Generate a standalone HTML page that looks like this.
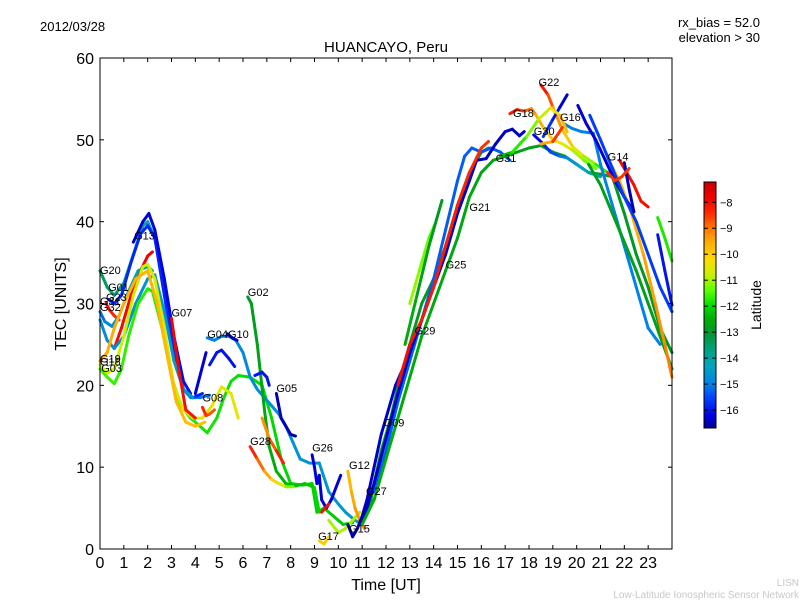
<!DOCTYPE html>
<html><head><meta charset="utf-8"><style>
html,body{margin:0;padding:0;background:#fff;width:800px;height:600px;overflow:hidden}
svg{display:block;font-family:"Liberation Sans","DejaVu Sans",sans-serif}
</style></head><body>
<svg id="chart" width="800" height="600" xmlns="http://www.w3.org/2000/svg">
<defs><linearGradient id="jet2" x1="0" y1="1" x2="0" y2="0"></linearGradient></defs>
<text x="40" y="31" font-size="13">2012/03/28</text>
<text x="760" y="27" font-size="13" text-anchor="end">rx_bias = 52.0</text>
<text x="760" y="42" font-size="13" text-anchor="end">elevation &gt; 30</text>
<text x="386" y="52" font-size="15" text-anchor="middle">HUANCAYO, Peru</text>
<g id="tracks"></g>
<g id="labels"></g>
<rect x="100" y="58" width="572" height="491" fill="none" stroke="#000" stroke-width="1"/>
<g id="axes"></g>
<text x="386" y="590" font-size="16" text-anchor="middle">Time [UT]</text>
<text x="66" y="304" font-size="16" text-anchor="middle" transform="rotate(-90 66 304)">TEC [UNITS]</text>
<rect x="704" y="182" width="12" height="246" fill="url(#jet2)" stroke="#000" stroke-width="1"/>
<g id="cbar"></g>
<text x="761" y="305" font-size="14" text-anchor="middle" transform="rotate(-90 761 305)">Latitude</text>
<text x="799" y="586" font-size="10" text-anchor="end" fill="#c8c8c8">LISN</text>
<text x="799" y="598" font-size="10" text-anchor="end" fill="#c8c8c8">Low-Latitude Ionospheric Sensor Network</text>
</svg>
<script>
const trackTimes = [
[0,0.3,0.6,1.0,1.4,1.8,2.0,2.3,2.7,3.1,3.5,3.8,4.2,4.6],
[0.35,0.6,0.9,1.3,1.7,2.0,2.3,2.7,3.1,3.5,3.9,4.3],
[1.4,1.8,2.05,2.3,2.7,3.1,3.5,3.8],
[0.25,0.4,0.6,0.8],
[0.6,0.9,1.3,1.7,2.0,2.2],
[0,0.3,0.6,1,1.5,2,2.3,2.7,3.1,3.5,3.9],
[0,0.2,0.5,0.8,1.2,1.6,2.0,2.2],
[0,0.3,0.6,0.9,1.2,1.6,2.0,2.2,2.6,3.0,3.4,3.8,4.2,4.5,4.9,5.2,5.5,5.8,6.3,6.8,7.2,7.6,8.0,8.5,8.9,9.1,9.4,9.8,10.2,10.6],
[0,0.3,0.6,1,1.4,1.8,2.0,2.3,2.7,3.1,3.5,3.9,4.3,4.7,5.1,5.5,5.8],
[0,0.3,0.6,1,1.5,2,2.4,2.8,3.2,3.6,4.0,4.4],
[3.0,3.3,3.6,4.0],
[4.3,4.45,4.6,4.8],
[4.5,4.8,5.1,5.4,5.7,6.0,6.3,6.6,6.9,7.2,7.5,7.8,8.1,8.4,8.8,9.2,9.6,10,10.3,10.7,11],
[5.35,5.55,5.75],
[4.0,4.45],
[4.6,4.9,5.1,5.4,5.65],
[6.2,6.35,6.6,6.9,7.1,7.4,7.8,8.2,8.6,9.0,9.2],
[7.4,7.6,7.8,8.0,8.2],
[6.5,6.8,7.0,7.1],
[6.3,6.6,6.9,7.2,7.5,7.8,8.1],
[6.8,7.1,7.4,7.7],
[8.9,9.0,9.1,9.2,9.3,9.5,9.7,9.9,10.1],
[9.2,9.4,9.6],
[9.6,10,10.3,10.6,10.9],
[10.4,10.55,10.7,10.9,11.1],
[9.3,9.6],
[10.4,10.6,10.8,11.0,11.2,11.5,11.8,12.1,12.4,12.7],
[11.1,11.3,11.5,11.8,12.2,12.6,13,13.5,14,14.5,15,15.5,16,16.3],
[11.5,12,12.5,13,13.5,14,14.5,15,15.3,15.6,16,16.4,16.8,17.2],
[11.0,11.5,12,12.5,13,13.5,14,14.5,15,15.5,15.8,16.2,16.6,17,17.3,17.6,17.8],
[12.5,13,13.5,14,14.5,15,15.5,16,16.3],
[11.0,11.5,12,12.5,13,13.5,14,14.5,15,15.5,16,16.5,17,17.5,18,18.5,19,19.5,20,20.5,21,21.5,22,22.5,23,23.5,24],
[13,13.4,13.8,14.1],
[12.8,13.3,13.8,14.35],
[17.2,17.5,17.8,18.1,18.3,18.6,19,19.4,19.8,20.3,20.8],
[18.5,18.8,19,19.4,19.85,20.3,20.8,21.3],
[18.2,18.6,18.9,19.3,19.6,20,20.5,21],
[18.6,19,19.3,19.6],
[19.45,19.8,20.2,20.7,21,21.5,22,22.5,23,23.5],
[16.8,17.3,17.9,18.4,18.9,19.3,19.6],
[18.5,19,19.4],
[20.5,21,21.5,22,22.5,23,23.5,24],
[21.3,21.8,22.3,22.8,23.3,23.7,24],
[20.05,20.4,20.8,21.2,21.6,22.0,22.4],
[20.55,21,21.5,22,22.5,23,23.5,24],
[21.8,22.1,22.4,22.7,23],
[23.4,23.7,24],
[23.4,23.7,24],
[22,22.2,22.4],
[21.3,21.6,21.9,22.2]
];
const trackTec = [
[34,32,31,32.5,36,39.5,40,38,32,25,19.5,18.5,18.5,18.8],
[30.5,30,31,35,38.5,39.5,38,31,24,19.5,18.5,19],
[37.5,40,41,39,33,26,20.5,19],
[30,29.2,28.5,28],
[24.5,27,31,34,35.8,36.3],
[28,25.5,24.5,26,30,33,33.5,29,23,19.5,18.5],
[29,27.8,27.2,28.5,31.5,34,34.5,34],
[22,21,20.2,22,26,30,31.8,31.5,27,21,17.5,16,15,14.2,16,18.5,20.5,21.2,21,20,16,11,8,7.8,8,4.5,5,4,3,3.2],
[22.5,21.5,22,26,31,34.5,34.8,33,27,20,17,16,16,17.5,19.8,19,16],
[23,24,27,30,33,34,30,24,18,15.5,15,15.5],
[28.2,22,17,16],
[17.3,16.3,16.5,17],
[25.8,25.5,26,26,25.5,24,21,19.5,18.5,17.5,16.5,15,13,11,10.5,10.5,7,5.5,4.5,3.5,3],
[26.3,25.8,25.5],
[19,24],
[22.5,24,24.3,23.3,22.3],
[30.8,30,25,17,12.5,9.5,8,7.7,8,7.5,4.5],
[19,16,15,14,13.8],
[21.2,21.6,21,20],
[12.5,11,9.5,8.5,8,7.6,7.6],
[16,13.5,12,10.5],
[11.5,10,8,9,6,5,6,7.5,9],
[1,0.6,1.5],
[3.5,2,2.5,3.5,4.5],
[9.5,7,5,3.5,2.5],
[4.5,5.5],
[3,1.5,2.5,4,6,10,14,17,20,22],
[4,5,8,12,16,21,25,30,33,37,42,46,48.5,49],
[7,12,18,23,28,33,39,45,48,49,48.5,49,48.5,47.5],
[3,8,13.5,19,24,28,32,36,41,45,47.5,47.7,49.5,51,51.3,50.5,51],
[20,25,28,32,37,42,46,49,49.8],
[3,6,11,16,21,26,30,34,38,43,46,47.5,48,48.5,49,49.3,48.5,48,47,46,45.8,45.5,41,36,32,27,24],
[30,34,38,40],
[25,31,37,42.6],
[53.2,53.7,53.5,53.8,53,51.5,50,49.5,48.8,47.5,46.5],
[56.7,55.5,54,51.2,49.1,48,47,46],
[50.6,49.5,48.5,48,47.8,47,46,45.5],
[50.4,52.5,54,55.5],
[52,51.4,51,50.8,47,42,37,32,27,25],
[48,48.5,50.4,52.5,53.9,53,51],
[49.5,49.8,51.5],
[47,44.5,41,37.5,34,30,26,22],
[47.8,45,41,36,30,25,21],
[54.2,52,50,47.5,45,43,41.2],
[53,50,46.5,43,40,36,32,29],
[47.5,46,44.5,42.5,41.8],
[40.5,38,35.2],
[38.4,34,29.8],
[47.2,44,41.2],
[46,45,45.5,46.5]
];
const trackLatStart = [-13.3,-15.8,-16.4,-8,-8,-14.8,-15.3,-11.6,-10.8,-9.5,-7.8,-8.2,-15,-16.4,-16.3,-16,-13,-16.5,-16,-8,-9.5,-16.3,-10,-11,-9.8,-8,-16.5,-12.8,-15.3,-16.4,-8,-12.5,-11,-12.5,-8,-7.8,-16.3,-15.5,-15,-12.5,-10,-12.8,-10,-16.3,-15.6,-8,-11.8,-16,-16.5,-8.5];
const trackLatEnd   = [-15.2,-15.8,-16,-8.5,-7.8,-14.5,-13.5,-12.2,-10.5,-9.8,-8.2,-8.8,-14.5,-16.4,-16.3,-16,-12,-16.5,-16,-11.5,-8,-16.3,-10,-11,-9,-8,-16.3,-13,-15.3,-16.4,-8.5,-13,-11.5,-13,-11.5,-12,-13.8,-16.5,-15,-9.5,-8,-12.8,-9,-16.3,-15.6,-8,-11.8,-16,-16.5,-8.5];
const labelNames = ["G20","G01","G23","G31","G32","G19","G18","G03","G13","G07","G08","G04","G10","G02","G05","G28","G26","G17","G12","G15","G27","G09","G29","G25","G21","G31","G18","G30","G22","G16","G14"];
const labelT = [0,0.34,0.25,0,0,0,0,0.05,1.43,3.0,4.3,4.5,5.37,6.2,7.4,6.3,8.9,9.15,10.45,10.45,11.16,11.9,13.2,14.5,15.5,16.6,17.33,18.2,18.4,19.3,21.3];
const labelV = [33.6,31.5,30.3,29.8,29.1,22.8,22.4,21.6,37.8,28.4,18,25.8,25.8,30.9,19.2,12.7,11.9,1.1,9.8,2,6.6,15,26.2,34.3,41.3,47.3,52.8,50.6,56.6,52.3,47.5];
const xTicks = [0,1,2,3,4,5,6,7,8,9,10,11,12,13,14,15,16,17,18,19,20,21,22,23];
const yTicks = [0,10,20,30,40,50,60];
const cbarTicks = [-8,-9,-10,-11,-12,-13,-14,-15,-16];

const NS='http://www.w3.org/2000/svg';
const X0=100,X1=672,Y0=549,Y1=58;
function xs(t){return X0+t*(X1-X0)/24;}
function ys(v){return Y0-v*(Y0-Y1)/60;}
const LMIN=-16.69,LMAX=-7.22;
const cmapLat=[-16.69,-16.2,-15.5,-15,-14.3,-13.6,-13,-12.4,-12,-11.4,-10.8,-10.2,-9.5,-9,-8.4,-7.8,-7.22];
const cmapCol=[[0,0,150],[0,0,230],[0,70,255],[0,130,230],[0,165,190],[0,160,120],[0,150,40],[0,180,0],[0,220,0],[90,255,0],[200,240,0],[255,220,0],[255,170,0],[255,120,0],[255,40,0],[240,0,0],[200,0,0]];
function jet(lat){
 lat=Math.max(LMIN,Math.min(LMAX,lat));
 for(let i=0;i<cmapLat.length-1;i++){
  if(lat<=cmapLat[i+1]){const f=(lat-cmapLat[i])/(cmapLat[i+1]-cmapLat[i]);
   const c=cmapCol[i].map((a,j)=>Math.round(a+(cmapCol[i+1][j]-a)*f));
   return 'rgb('+c.join(',')+')';}
 }
 return 'rgb(200,0,0)';
}
function mk(tag,attrs,parent){const e=document.createElementNS(NS,tag);for(const k in attrs)e.setAttribute(k,attrs[k]);parent.appendChild(e);return e;}
const grad=document.getElementById('jet2');
for(let i=0;i<cmapLat.length;i++){
 mk('stop',{offset:(cmapLat[i]-LMIN)/(LMAX-LMIN),'stop-color':'rgb('+cmapCol[i].join(',')+')'},grad);
}

const gT=document.getElementById('tracks');
for(let k=0;k<trackTimes.length;k++){
 const tt=trackTimes[k],vv=trackTec[k],n=tt.length;
 const g=mk('g',{},gT);
 
 
 for(let i=0;i<n-1;i++){
  const f=n>2?(i+0.5)/(n-1):0.5;
  const lat=trackLatStart[k]+(trackLatEnd[k]-trackLatStart[k])*f;
  const s=mk('line',{x1:xs(tt[i]),y1:ys(vv[i]),x2:xs(tt[i+1]),y2:ys(vv[i+1]),stroke:jet(lat),'stroke-width':3,'stroke-linecap':'round'},g);
  
  
 }
}
const gL=document.getElementById('labels');
for(let i=0;i<labelNames.length;i++){
 const t=mk('text',{x:xs(labelT[i]),y:ys(labelV[i]),'font-size':11,fill:'#000'},gL);
 t.textContent=labelNames[i];
 
 
}
const gA=document.getElementById('axes');
for(const t of xTicks){
 const x=xs(t);
 mk('line',{x1:x,y1:Y0,x2:x,y2:Y0-4,stroke:'#000'},gA);
 mk('line',{x1:x,y1:Y1,x2:x,y2:Y1+4,stroke:'#000'},gA);
 const l=mk('text',{x:x,y:568,'font-size':16,'text-anchor':'middle'},gA);
 l.textContent=t;
 
 
}
for(const v of yTicks){
 const y=ys(v);
 mk('line',{x1:X0,y1:y,x2:X0+4,y2:y,stroke:'#000'},gA);
 mk('line',{x1:X1,y1:y,x2:X1-4,y2:y,stroke:'#000'},gA);
 const l=mk('text',{x:94,y:y+6,'font-size':16,'text-anchor':'end'},gA);
 l.textContent=v;
 
 
}
const gC=document.getElementById('cbar');
for(const c of cbarTicks){
 const y=182+(LMAX-c)/(LMAX-LMIN)*246;
 mk('line',{x1:704,y1:y,x2:708,y2:y,stroke:'#000'},gC);
 mk('line',{x1:712,y1:y,x2:716,y2:y,stroke:'#000'},gC);
 const l=mk('text',{x:720,y:y+4,'font-size':11},gC);
 l.textContent='\u2212'+Math.abs(c);
 
 
}
</script>
</body></html>
